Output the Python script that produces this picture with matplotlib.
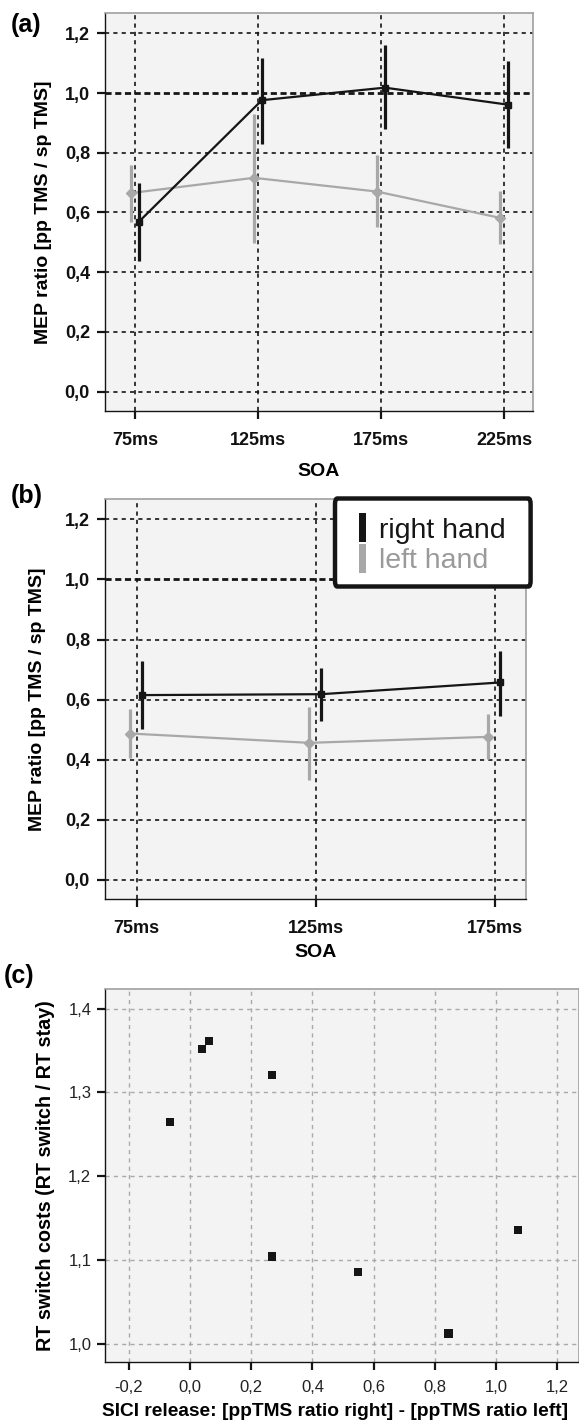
import numpy as np
import matplotlib
matplotlib.use("Agg")
import matplotlib.pyplot as plt
import matplotlib.patches as mpatches
from matplotlib.ticker import FuncFormatter, FixedLocator

plt.rcParams['font.family'] = ['Liberation Sans', 'DejaVu Sans']

# ---------------- data ----------------
soa_a = ['75ms', '125ms', '175ms', '225ms']
right_a = [0.569, 0.976, 1.018, 0.961]
right_a_lo = [0.438, 0.828, 0.880, 0.816]
right_a_hi = [0.700, 1.118, 1.160, 1.108]
left_a = [0.665, 0.716, 0.670, 0.582]
left_a_lo = [0.569, 0.498, 0.552, 0.494]
left_a_hi = [0.758, 0.930, 0.792, 0.671]

soa_b = ['75ms', '125ms', '175ms']
right_b = [0.615, 0.618, 0.657]
right_b_lo = [0.502, 0.530, 0.546]
right_b_hi = [0.727, 0.705, 0.763]
left_b = [0.487, 0.456, 0.476]
left_b_lo = [0.406, 0.333, 0.401]
left_b_hi = [0.568, 0.574, 0.552]

mep_ticks = [0.0, 0.2, 0.4, 0.6, 0.8, 1.0, 1.2]

sici_release = [-0.065, 0.039, 0.063, 0.268, 0.268, 0.549, 0.845, 1.071]
rt_switch_cost = [1.2645, 1.352, 1.361, 1.321, 1.104, 1.0855, 1.012, 1.136]
sici_ticks = [-0.2, 0.0, 0.2, 0.4, 0.6, 0.8, 1.0, 1.2]
rt_ticks = [1.0, 1.1, 1.2, 1.3, 1.4]

# ---------------- style ----------------
BLACK = '#151515'
GREY = '#a8a8a8'
BG = '#f3f3f3'
comma = FuncFormatter(lambda v, p: f"{v:.1f}".replace('.', ','))

W, H = 579, 1420
fig = plt.figure(figsize=(W / 100, H / 100), dpi=100)


def frac(l, t, r, b):
    return [l / W, 1 - b / H, (r - l) / W, (b - t) / H]


def mep_panel(ax, cats, rv, rlo, rhi, lv, llo, lhi, xlim, xlab_y, ylab_x):
    ax.set_facecolor(BG)
    n = len(cats)
    x = np.arange(n)
    ax.set_xlim(*xlim)
    ax.set_ylim(-0.065, 1.267)
    for yv in mep_ticks:
        if yv == 1.0:
            ax.axhline(yv, color=BLACK, lw=2.0, ls=(0, (2.2, 1.3)), zorder=1)
        else:
            ax.axhline(yv, color=BLACK, lw=1.2, ls=(0, (2.5, 2.5)), zorder=1)
    for xv in x:
        ax.axvline(xv, color=BLACK, lw=1.2, ls=(0, (2.5, 2.5)), zorder=1)
    rv, rlo, rhi = map(np.asarray, (rv, rlo, rhi))
    lv, llo, lhi = map(np.asarray, (lv, llo, lhi))
    xl = x - 0.035
    xr = x + 0.03
    ax.errorbar(xl, lv, yerr=[lv - llo, lhi - lv], fmt='none', ecolor=GREY,
                elinewidth=2.3, capsize=0, zorder=2)
    ax.plot(xl, lv, color=GREY, lw=1.6, marker='D', ms=5, zorder=2)
    ax.errorbar(xr, rv, yerr=[rv - rlo, rhi - rv], fmt='none', ecolor=BLACK,
                elinewidth=2.3, capsize=0, zorder=3)
    ax.plot(xr, rv, color=BLACK, lw=1.6, marker='s', ms=5, zorder=3)
    ax.set_xticks(x)
    ax.set_xticklabels(cats)
    ax.set_yticks(mep_ticks)
    ax.yaxis.set_major_formatter(comma)
    for s in ('left', 'bottom'):
        ax.spines[s].set_color(BLACK)
        ax.spines[s].set_linewidth(1.0)
    for s in ('top', 'right'):
        ax.spines[s].set_color('#a0a0a0')
        ax.spines[s].set_linewidth(1.2)
    ax.tick_params(direction='out', length=6, width=1.6, color=BLACK,
                   labelsize=13)
    ax.tick_params(axis='x', pad=9)
    ax.tick_params(axis='y', pad=5)
    for lab in ax.get_xticklabels() + ax.get_yticklabels():
        lab.set_fontweight('bold')
        lab.set_color('#111111')
    ax.set_xlabel('SOA', fontsize=14, fontweight='bold', va='center')
    ax.xaxis.set_label_coords(0.5, xlab_y)
    ax.set_ylabel('MEP ratio [pp TMS / sp TMS]', fontsize=14,
                  fontweight='bold', va='center')
    ax.yaxis.set_label_coords(ylab_x, 0.5)


# Panel (a)
ax_a = fig.add_axes(frac(105.2, 13.3, 532.9, 411))
mep_panel(ax_a, soa_a, right_a, right_a_lo, right_a_hi,
          left_a, left_a_lo, left_a_hi, (-0.244, 3.234), -0.1526, -0.1454)

# Panel (b)
ax_b = fig.add_axes(frac(105.2, 499.3, 526.4, 899.3))
mep_panel(ax_b, soa_b, right_b, right_b_lo, right_b_hi,
          left_b, left_b_lo, left_b_hi, (-0.175, 2.177), -0.134, -0.16)

# legend box (drawn explicitly) + legend entries
box_l, box_t, box_r, box_b = 335.0, 498.5, 530.6, 586.5
box = mpatches.FancyBboxPatch((box_l / W, 1 - box_b / H),
                              (box_r - box_l) / W, (box_b - box_t) / H,
                              boxstyle='round,pad=0,rounding_size=0.004',
                              transform=fig.transFigure, facecolor='white',
                              edgecolor=BLACK, linewidth=3.2, zorder=20)
fig.patches.append(box)
handles = [mpatches.Patch(facecolor=BLACK, edgecolor='none'),
           mpatches.Patch(facecolor=GREY, edgecolor='none')]
leg = fig.legend(handles, ['right hand', 'left hand'],
                 loc='center left',
                 bbox_to_anchor=(358.5 / W, 1 - ((box_t + box_b) / 2 + 1) / H),
                 bbox_transform=fig.transFigure, borderaxespad=0,
                 fontsize=20.5, handlelength=0.28, handleheight=1.2,
                 handletextpad=0.45, labelspacing=0.0, borderpad=0,
                 frameon=False)
leg.get_texts()[0].set_color(BLACK)
leg.get_texts()[1].set_color('#9a9a9a')
leg.set_zorder(21)

# Panel (c)
ax_c = fig.add_axes(frac(105.2, 989.3, 579, 1362))
ax_c.set_facecolor(BG)
ax_c.set_xlim(-0.278, 1.272)
ax_c.set_ylim(0.978, 1.423)
ax_c.xaxis.set_major_locator(FixedLocator(sici_ticks))
ax_c.yaxis.set_major_locator(FixedLocator(rt_ticks))
ax_c.xaxis.set_major_formatter(comma)
ax_c.yaxis.set_major_formatter(comma)
ax_c.grid(True, color='#aaaaaa', lw=1.0, ls=(0, (3, 3)))
ax_c.set_axisbelow(True)
ax_c.scatter(sici_release, rt_switch_cost, marker='s', s=34, color=BLACK,
             edgecolors='none', zorder=3)
for s in ('left', 'bottom'):
    ax_c.spines[s].set_color(BLACK)
    ax_c.spines[s].set_linewidth(1.0)
for s in ('top', 'right'):
    ax_c.spines[s].set_color('#a0a0a0')
    ax_c.spines[s].set_linewidth(1.2)
ax_c.tick_params(direction='out', length=6, width=1.6, color=BLACK,
                 labelsize=12, labelcolor='#222222')
ax_c.tick_params(axis='x', pad=7)
ax_c.tick_params(axis='y', pad=4)
ax_c.set_xlabel('SICI release: [ppTMS ratio right] - [ppTMS ratio left]',
                fontsize=13.8, fontweight='bold', va='center')
ax_c.xaxis.set_label_coords((335 - 105.2) / (579 - 105.2), -0.1334)
ax_c.set_ylabel('RT switch costs (RT switch / RT stay)', fontsize=14.2,
                fontweight='bold', va='center')
ax_c.yaxis.set_label_coords((46 - 105.2) / (579 - 105.2), 0.5)

# panel letters
fig.text(11 / W, 1 - 25 / H, '(a)', fontsize=18, fontweight='bold', va='center')
fig.text(11 / W, 1 - 496 / H, '(b)', fontsize=18, fontweight='bold', va='center')
fig.text(4 / W, 1 - 976 / H, '(c)', fontsize=18, fontweight='bold', va='center')

fig.savefig('out.png', dpi=100)
